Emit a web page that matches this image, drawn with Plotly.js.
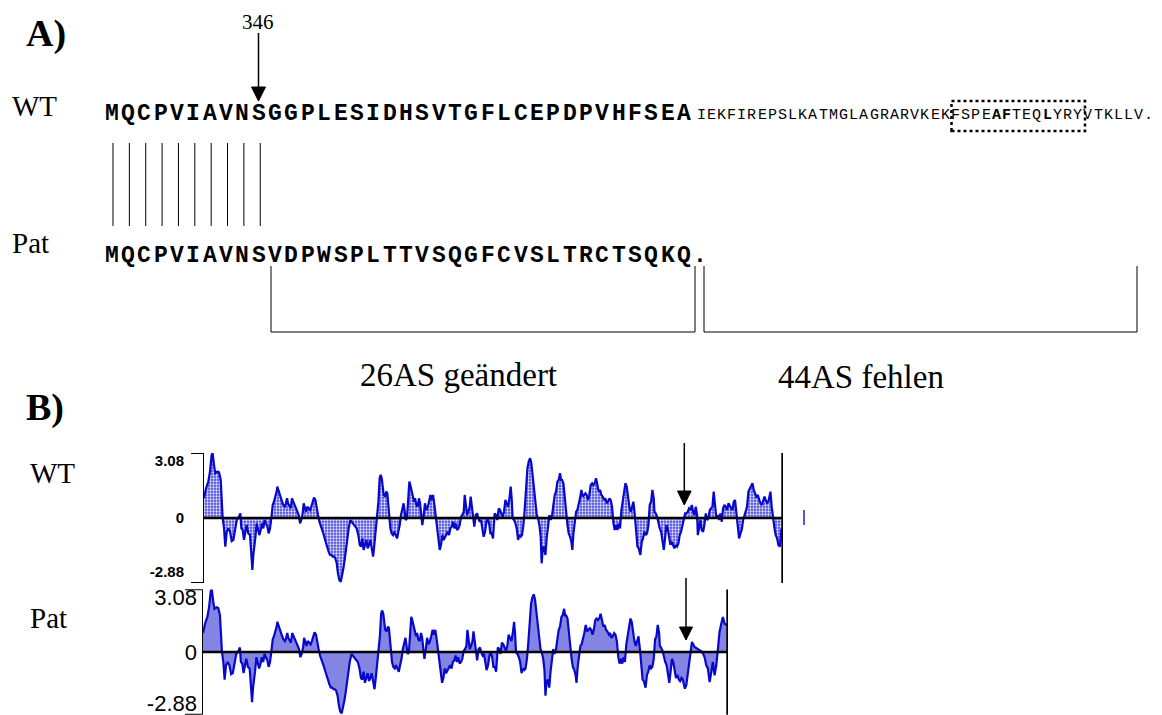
<!DOCTYPE html>
<html><head><meta charset="utf-8">
<script src="https://cdn.plot.ly/plotly-3.0.1.min.js"></script>
<style>body{margin:0;background:#fff}#chart{width:1162px;height:715px}</style>
</head><body><div id="chart"></div>
<script>
// ---------- text / labels ----------
const wtSeqMain = "MQCPVIAVNSGGPLESIDHSVTGFLCEPDPVHFSEA";
const wtSeqTail = "IEKFIREPSLKATMGLAGRARVKEKFSPEAFTEQLYRYVTKLLV.";
const wtTailBold = [29, 30, 34];
const patSeq = "MQCPVIAVNSVDPWSPLTTVSQGFCVSLTRCTSQKQ.";
const mutationLabel = "346";
const changedLabel = "26AS geändert";
const missingLabel = "44AS fehlen";
const yTickVals = [3.08, 0, -2.88];
const yTickText = ["3.08", "0", "-2.88"];
const wtLength = 416;
const patLength = 372;

// ---------- hydropathy profile (residue position, value) ----------
const commonPos = [0.7,2.2,3.8,5.0,6.2,6.9,7.9,8.8,10.3,11.5,12.7,13.2,13.6,14.1,15.1,16.0,17.0,18.2,19.4,20.6,21.8,23.0,24.2,25.3,26.1,26.8,27.5,28.5,29.4,30.4,31.3,32.5,33.7,34.7,35.4,36.1,36.8,37.5,38.5,39.5,40.4,41.4,42.3,43.3,44.2,45.2,46.2,47.1,48.1,49.0,50.0,50.9,51.9,52.8,53.3,54.0,54.8,55.7,56.7,57.6,58.6,59.5,60.3,61.0,61.9,62.9,63.8,64.8,65.8,66.7,67.7,68.6,69.6,70.5,71.5,72.2,72.9,73.9,74.8,75.8,76.8,77.7,78.7,79.6,80.6,81.5,82.5,83.5,84.4,85.4,86.3,87.3,88.2,89.2,90.1,91.1,92.1,93.0,94.0,94.9,95.9,96.8,97.8,98.8,99.7,100.7,101.6,102.6,103.5,104.5,
105.7,106.6,107.8,109.0,110.2,111.4,112.4,113.3,114.3,115.2,116.2,117.2,118.1,119.1,120.0,121.0,122.0,122.9,123.9,124.8,125.8,126.7,127.4,128.2,128.9,129.6,130.6,131.5,132.2,133.0,133.7,134.4,135.3,136.3,137.2,138.2,139.2,140.1,141.1,142.0,143.0,143.9,144.7,145.4,146.3,147.3,148.0,148.7,149.7,150.6,151.4,152.1,153.0,154.0,154.9,155.7,156.4,157.3,158.3,159.2,160.2,161.2,162.1,163.1,164.0,165.0,166.0,166.9,167.9,168.8,169.8,170.7,171.7,172.6,173.6,174.6,175.5,176.5,177.4,178.4,179.3,180.3,181.2,182.2,183.2,184.1,185.1,186.0,187.0,187.7,188.4,189.4,190.3,191.3,192.0,192.7,193.7,194.6,195.6,196.6,197.5,198.5,199.4,200.4,201.3,202.3,203.3,204.2,205.2,206.1,207.1,208.0,
209.2,210.2,211.1,212.1,213.1,214.0,215.0,215.9,216.9,217.8,218.8,219.8,220.7,221.4,222.1,223.1,224.1,225.0,226.0,226.9,227.9,228.8,229.8,230.7,231.7,232.7,233.6,234.6,235.5,236.5,237.4,238.4,239.4,240.3,241.3,242.2,242.9,243.7,244.6,245.6,246.5,247.5,248.4,249.4,250.4,251.3,252.3,253.2,254.2,255.1,256.1,256.8,257.5,258.5,259.4,260.4,261.4,262.3,263.3,264.2,264.9,265.7,266.6,267.6,268.5,269.5,270.4,271.4,272.4,273.3,274.3,275.2,276.2,277.1,278.1,279.1,280.0,281.0,281.9,282.9,283.8,284.8,285.7,286.7,287.7,288.6,289.6,290.5,291.5,292.4,293.4,294.4,295.3,296.3,297.2,298.2,299.1,300.1,301.1,302.0,303.0,303.9,304.9,305.8,306.8,307.7,308.7,309.7,310.6,311.6,312.5,
313.7,314.7,315.6,316.6,317.6,318.5,319.5,320.4,321.4,322.3,323.3,323.8,324.7,325.7,326.6,327.6,328.6,329.5,330.5,331.4,332.4,333.3,334.3,335.2,336.2,337.2,338.1,339.1,340.0];
const commonHyd = [1.06,1.60,1.96,2.50,3.40,3.49,2.85,2.41,2.50,2.46,2.05,1.42,0.34,0,-0.56,-1.54,-0.74,-0.56,-0.74,-1.24,-1.18,-0.74,-0.11,-0.02,0.16,0.25,-0.56,-0.65,-1.18,-0.83,-0.38,-0.83,-0.92,-1.99,-2.80,-1.99,-1.63,-1.10,-0.29,-0.65,-0.92,-0.65,-0.29,-0.56,-0.11,-0.29,-0.47,-0.83,-0.56,-0.02,0.70,0.88,1.15,1.42,1.69,1.51,1.24,1.06,0.88,0.70,0.61,0.79,1.06,0.79,0.61,0.52,1.06,0.88,0.70,0.61,0.34,0.16,-0.29,-0.11,0.25,0.79,0.52,0.34,0.61,0.52,0.43,0.61,0.88,1.10,0.97,0.52,0.16,-0.20,-0.38,-0.56,-0.83,-1.10,-1.37,-1.63,-1.81,-1.99,-1.99,-2.08,-2.08,-2.17,-2.44,-2.98,-3.34,-3.43,-3.16,-2.71,-2.26,-1.63,-1.01,-0.56,
-0.11,-0.20,-0.29,-0.38,-0.56,-0.92,-1.45,-1.54,-1.10,-1.72,-1.45,-1.18,-1.63,-1.45,-1.18,-1.63,-2.08,-1.45,-0.74,-0.02,0.88,2.14,2.32,2.14,1.78,1.24,1.15,1.42,1.33,0.70,-0.02,-0.56,-0.83,-0.92,-0.74,-0.92,-1.10,-0.74,-0.38,0.16,0.52,0.79,0.34,-0.11,-0.02,1.06,1.96,1.78,1.42,1.15,0.88,1.06,0.70,0.61,1.06,0.79,0.34,-0.38,0.16,0.79,0.43,0.61,0.88,1.24,0.97,1.24,0.70,0.16,-0.38,-0.92,-1.72,-1.45,-0.92,-1.18,-1.01,-0.83,-0.74,-0.92,-0.56,-0.47,-0.20,-0.56,-0.29,-0.65,-0.56,-0.38,0.07,0.16,0.34,1.24,0.70,0.16,0.34,0.61,1.15,0.61,0.16,-0.47,0.16,0.25,-0.02,-0.20,-0.11,-0.56,-1.01,-0.74,-0.20,-0.02,-0.29,-0.83,-0.83,-1.10,
0.25,0.16,-0.11,0.52,0.43,0.25,0.07,0.34,0.97,0.79,0.61,1.06,1.69,1.06,-0.02,-0.11,-0.29,-0.56,-1.18,-0.92,-1.01,-0.92,-0.38,0.43,1.78,2.68,3.04,3.22,2.95,2.32,1.60,0.88,0.16,-0.02,-0.38,-1.01,-2.44,-1.63,-1.54,-1.99,-1.10,-0.47,0.16,-0.11,0.16,0.70,1.24,1.42,1.96,2.05,2.41,2.05,2.05,1.87,1.06,0.16,-0.38,-0.83,-1.01,-1.28,-1.72,-0.83,-0.11,0.34,0.43,0.70,1.06,1.51,1.15,1.24,1.33,1.24,0.97,1.24,1.78,1.87,1.78,1.87,2.14,1.78,1.42,1.51,1.24,1.15,0.97,1.06,0.79,0.88,1.06,0.97,0.61,-0.29,-0.65,-0.38,-0.65,-0.29,-0.56,0.43,0.88,1.42,1.87,1.69,1.06,0.61,0.34,0.61,0.88,0.16,-0.56,-1.54,-1.63,
-1.99,-1.28,-1.10,-0.74,-0.92,-0.83,-0.38,0.70,0.88,1.51,1.06,0.34,0.25,0.07,-0.29,-0.56,-0.74,-1.18,-1.72,-1.10,-0.38,-0.56,-1.10,-1.45,-1.28,-1.54,-1.63,-1.45,-1.54];
const wtTailPos = [341.0,341.9,342.9,343.9,344.8,345.8,346.7,347.7,348.6,349.6,350.6,351.5,352.5,353.4,354.4,354.9,355.8,356.8,357.7,358.7,359.6,360.6,361.6,362.5,363.5,364.4,365.4,366.3,367.3,368.2,369.2,370.2,371.1,372.1,373.0,374.0,374.9,375.9,376.9,377.8,378.8,379.7,380.7,381.6,382.6,383.5,384.5,385.5,386.4,387.4,388.3,389.3,390.2,391.2,392.2,393.1,394.1,395.0,396.0,396.9,397.9,398.9,399.8,400.8,401.7,402.7,403.6,404.6,405.5,406.5,407.0,407.9,408.9,409.9,410.8,411.8,412.7,413.7,414.4,414.9];
const wtTailHyd = [-1.37,-0.92,-0.74,-0.38,-0.11,0.25,0.25,0.34,0.52,0.43,0.70,0.34,0.16,0.61,0.16,-0.92,-0.56,-0.11,-0.65,-0.74,-0.38,0.25,-0.11,-0.02,0.43,0.52,0.61,1.42,0.61,-0.02,0.16,-0.11,0.25,-0.20,0.52,0.70,0.61,0.43,0.79,0.61,0.52,0.43,0.88,0.97,0.25,-0.47,-1.10,-0.83,-0.65,-0.11,0.16,0.34,0.61,1.42,1.60,1.69,1.87,1.51,1.33,1.15,1.24,0.97,0.79,0.70,0.88,1.15,0.97,0.79,0.88,1.24,1.42,0.61,-0.11,-0.56,-0.92,-1.10,-1.45,-1.54,-1.10,-0.56];
const patTailPos = [341.5,342.5,343.7,344.8,346.5,348.4,350.0,351.9,353.8,355.4,356.6,357.8,359.0,360.2,361.3,362.5,363.7,364.9,366.0,367.5,368.4,369.6,370.8,371.5];
const patTailHyd = [-2.05,-1.86,-1.12,-0.56,0.56,0.28,0.19,0.09,0,-0.28,-0.74,-0.93,-1.68,-1.12,-0.56,-1.30,-0.74,0.19,1.12,1.68,1.96,1.58,1.49,1.49];

// ---------- helpers ----------
const W = 1162, H = 715;
const px = x => x / W, py = y => 1 - y / H;
const SERIF = "Liberation Serif, Times New Roman, serif";
const MONO = "Liberation Mono, Courier New, monospace";
const SANS = "Liberation Sans, Arial, sans-serif";
const ann = [], shapes = [];
function txt(s, x, y, size, family, opts) {
  ann.push(Object.assign({text: s, x: px(x), y: py(y), xref: 'paper', yref: 'paper', showarrow: false,
    font: {size: size, family: family, color: '#000'}, xanchor: 'left', yanchor: 'middle'}, opts || {}));
}
function seqText(seq, x0, pitch, y, size, boldIdx, allBold) {
  for (let i = 0; i < seq.length; i++) {
    const b = allBold || (boldIdx && boldIdx.indexOf(i) >= 0);
    ann.push({text: seq[i], x: px(x0 + i * pitch), y: py(y), xref: 'paper', yref: 'paper', showarrow: false,
      xanchor: 'center', yanchor: 'middle', font: {size: size, family: MONO, color: '#000', weight: b ? 'bold' : 'normal'}});
  }
}
function line(x0, y0, x1, y1, w, color, dash) {
  shapes.push({type: 'line', xref: 'paper', yref: 'paper', x0: px(x0), y0: py(y0), x1: px(x1), y1: py(y1),
    line: {color: color || '#000', width: w || 1, dash: dash || 'solid'}, layer: 'above'});
}
function arrowDown(xc, ytop, yhead, ytip, half) {
  line(xc, ytop, xc, yhead + 1, 1.5);
  shapes.push({type: 'path', xref: 'paper', yref: 'paper',
    path: 'M ' + px(xc - half) + ' ' + py(yhead) + ' L ' + px(xc + half) + ' ' + py(yhead) + ' L ' + px(xc) + ' ' + py(ytip) + ' Z',
    fillcolor: '#000', line: {color: '#000', width: 1}, layer: 'above'});
}

// ---------- panel A ----------
txt('<b>A)</b>', 24, 33, 38, SERIF);
txt(mutationLabel, 258, 22, 21, SERIF, {xanchor: 'center'});
arrowDown(258.5, 33, 87, 101, 7);
txt('WT', 10, 106, 29, SERIF);
const pitchMain = 16.36, x0Main = 111.5;
seqText(wtSeqMain, x0Main, pitchMain, 114, 23, null, true);
seqText(wtSeqTail, 701, 10.18, 115, 15, wtTailBold, false);
shapes.push({type: 'rect', xref: 'paper', yref: 'paper', x0: px(951.5), x1: px(1085), y0: py(131), y1: py(101),
  line: {color: '#000', width: 2.5, dash: 'dot'}, layer: 'above'});
for (let i = 0; i < 10; i++) line(x0Main + i * pitchMain + 1.5, 143, x0Main + i * pitchMain + 1.5, 226, 1);
txt('Pat', 10, 243, 29, SERIF);
seqText(patSeq, x0Main, pitchMain, 256, 23, null, true);
// brackets
line(271, 266, 271, 332, 1); line(271, 332, 695, 332, 1); line(695, 266, 695, 332, 1);
line(704, 266, 704, 332, 1); line(704, 332, 1137, 332, 1); line(1137, 266, 1137, 332, 1);
txt(changedLabel, 458, 375, 33, SERIF, {xanchor: 'center'});
txt(missingLabel, 861, 377, 33, SERIF, {xanchor: 'center'});

// ---------- panel B ----------
txt('<b>B)</b>', 24, 408, 38, SERIF);
txt('WT', 28, 473, 29, SERIF);
txt('Pat', 28, 618, 29, SERIF);
arrowDown(684.3, 443, 491, 505, 6.8);
arrowDown(686, 578, 627, 640, 6.5);
// y-axis brackets
shapes.push({type: 'line', xref: 'x', yref: 'y', x0: 0, x1: 0, y0: -3.5, y1: 3.5, line: {color: '#000', width: 2}, layer: 'above'});
shapes.push({type: 'line', xref: 'paper', yref: 'y', x0: px(191), x1: px(203), y0: 3.5, y1: 3.5, line: {color: '#000', width: 2}});
shapes.push({type: 'line', xref: 'paper', yref: 'y', x0: px(191), x1: px(203), y0: -3.5, y1: -3.5, line: {color: '#000', width: 2}});
shapes.push({type: 'line', xref: 'x2', yref: 'y2', x0: 0, x1: 0, y0: -3.5, y1: 3.5, line: {color: '#000', width: 2}, layer: 'above'});
shapes.push({type: 'line', xref: 'paper', yref: 'y2', x0: px(185), x1: px(202), y0: 3.5, y1: 3.5, line: {color: '#000', width: 2}});
shapes.push({type: 'line', xref: 'paper', yref: 'y2', x0: px(185), x1: px(202), y0: -3.5, y1: -3.5, line: {color: '#000', width: 2}});
// zero lines and end lines
shapes.push({type: 'line', xref: 'x', yref: 'y', x0: 0, x1: wtLength, y0: 0, y1: 0, line: {color: '#000', width: 2.5}, layer: 'above'});
shapes.push({type: 'line', xref: 'x2', yref: 'y2', x0: 0, x1: patLength, y0: 0, y1: 0, line: {color: '#000', width: 2.5}, layer: 'above'});
shapes.push({type: 'line', xref: 'x', yref: 'y', x0: wtLength - 0.5, x1: wtLength - 0.5, y0: -3.55, y1: 3.5, line: {color: '#000', width: 2}, layer: 'above'});
shapes.push({type: 'line', xref: 'x2', yref: 'y2', x0: patLength - 0.5, x1: patLength - 0.5, y0: -3.55, y1: 3.5, line: {color: '#000', width: 2}, layer: 'above'});
line(804, 510, 804, 525, 1.5, '#2020d8');

const wtX = commonPos.concat(wtTailPos), wtY = commonHyd.concat(wtTailHyd);
const patX = commonPos.concat(patTailPos), patY = commonHyd.concat(patTailHyd);

const traces = [
  {x: wtX, y: wtY, xaxis: 'x', yaxis: 'y', type: 'scatter', mode: 'lines', line: {color: '#0808cc', width: 2.2},
   fill: 'tozeroy', fillcolor: '#8a8ae6',
   fillpattern: {shape: '.', bgcolor: '#4c4cd8', fgcolor: '#e4e4fb', size: 3, solidity: 0.45}, hoverinfo: 'skip'},
  {x: patX, y: patY, xaxis: 'x2', yaxis: 'y2', type: 'scatter', mode: 'lines', line: {color: '#0808cc', width: 2.2},
   fill: 'tozeroy', fillcolor: '#8484e2', hoverinfo: 'skip'}
];

const yBase = {range: [-3.5, 3.5], showgrid: false, zeroline: false, showline: false, ticks: '',
  tickvals: yTickVals, ticktext: yTickText, fixedrange: true, ticklabeloverflow: 'allow'};
const layout = {
  width: W, height: H, margin: {l: 0, r: 0, t: 0, b: 0}, paper_bgcolor: '#fff', plot_bgcolor: 'rgba(0,0,0,0)',
  showlegend: false,
  xaxis: {domain: [px(203), px(783)], range: [0, wtLength], visible: false, anchor: 'y', fixedrange: true},
  yaxis: Object.assign({}, yBase, {domain: [py(583), py(453)], anchor: 'x', ticklabelstandoff: 18,
    tickfont: {family: SANS, size: 15, color: '#000', weight: 'bold'}}),
  xaxis2: {domain: [px(202), px(728)], range: [0, patLength], visible: false, anchor: 'y2', fixedrange: true},
  yaxis2: Object.assign({}, yBase, {domain: [py(714.65), py(589.35)], anchor: 'x2', ticklabelstandoff: 4,
    tickfont: {family: SANS, size: 22, color: '#000'}}),
  annotations: ann, shapes: shapes
};
Plotly.newPlot('chart', traces, layout, {staticPlot: true, displayModeBar: false});
</script></body></html>
